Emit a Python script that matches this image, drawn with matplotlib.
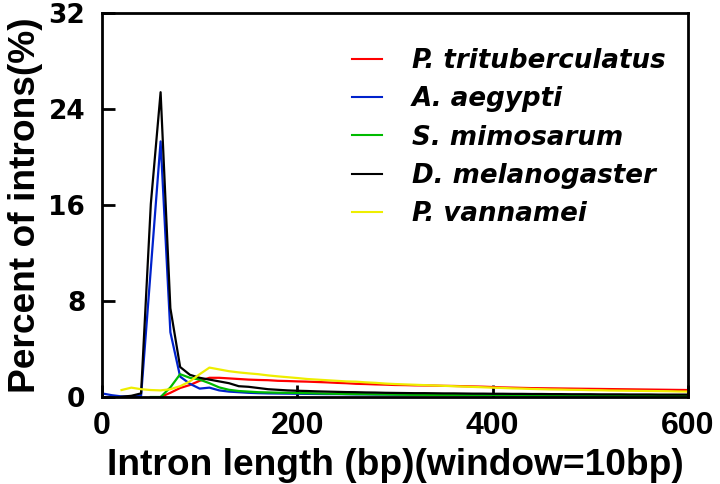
import numpy as np
import matplotlib
matplotlib.use("Agg")
import matplotlib.pyplot as plt

# Data (intron length bins, 10 bp windows)
species = ["P. trituberculatus", "A. aegypti", "S. mimosarum", "D. melanogaster", "P. vannamei"]
colors = ["#ff0000", "#0022cc", "#00bb00", "#000000", "#eeee00"]

red_start = 60
red_vals = [0.0, 0.35, 0.75, 1.0, 1.35, 1.6, 1.6, 1.55, 1.5, 1.45, 1.42, 1.4, 1.35, 1.33, 1.3,
            1.28, 1.25, 1.22, 1.18, 1.15, 1.1, 1.08, 1.05, 1.03, 1.0, 0.99, 0.97, 0.96, 0.95,
            0.93, 0.92, 0.9, 0.88, 0.86, 0.83, 0.8, 0.78, 0.76, 0.74, 0.73, 0.72, 0.71, 0.7,
            0.69, 0.68, 0.67, 0.66, 0.65, 0.64, 0.63, 0.62, 0.61, 0.6, 0.59, 0.58]

blue_start = 0
blue_vals = [0.3, 0.15, 0.05, 0.05, 0.08, 10.7, 21.3, 5.4, 1.7, 1.1, 0.7, 0.78, 0.55, 0.45, 0.4,
             0.35, 0.32, 0.3, 0.29, 0.28, 0.27, 0.26, 0.25, 0.24, 0.24, 0.23, 0.22, 0.22, 0.21,
             0.21, 0.2, 0.2, 0.19, 0.19, 0.18, 0.18, 0.17, 0.17, 0.17, 0.16, 0.16, 0.16, 0.15,
             0.15, 0.15, 0.14, 0.14, 0.14, 0.14, 0.13, 0.13, 0.13, 0.13, 0.13, 0.12, 0.12,
             0.12, 0.12, 0.12, 0.12, 0.12]

green_start = 50
green_vals = [0.0, 0.0, 0.8, 1.9, 1.6, 1.45, 1.15, 0.8, 0.6, 0.5, 0.45, 0.4, 0.38, 0.36, 0.35,
              0.33, 0.32, 0.3, 0.28, 0.27, 0.25, 0.24, 0.23, 0.22, 0.21, 0.2, 0.19, 0.18, 0.18,
              0.17, 0.16, 0.16, 0.15, 0.15, 0.14, 0.14, 0.13, 0.13, 0.13, 0.12, 0.12, 0.12,
              0.11, 0.11, 0.11, 0.11, 0.1, 0.1, 0.1, 0.1, 0.1, 0.1, 0.1, 0.1, 0.1, 0.1]

black_start = 20
black_vals = [0.02, 0.1, 0.3, 16.1, 25.4, 7.4, 2.5, 1.85, 1.6, 1.45, 1.3, 1.15, 0.9, 0.85, 0.75,
              0.65, 0.6, 0.55, 0.52, 0.5, 0.47, 0.45, 0.43, 0.41, 0.4, 0.38, 0.37, 0.35, 0.34,
              0.33, 0.32, 0.32, 0.31, 0.3, 0.3, 0.29, 0.28, 0.28, 0.27, 0.27, 0.26, 0.26, 0.25,
              0.25, 0.24, 0.24, 0.23, 0.23, 0.23, 0.22, 0.22, 0.22, 0.21, 0.21, 0.21, 0.2, 0.2,
              0.2, 0.2]

yellow_start = 20
yellow_vals = [0.58, 0.78, 0.65, 0.58, 0.55, 0.65, 0.9, 1.3, 1.9, 2.45, 2.3, 2.15, 2.05, 1.97,
               1.9, 1.8, 1.72, 1.65, 1.58, 1.5, 1.45, 1.4, 1.35, 1.3, 1.28, 1.22, 1.18, 1.12,
               1.08, 1.05, 1.02, 0.99, 0.96, 0.93, 0.9, 0.87, 0.84, 0.81, 0.78, 0.75, 0.72, 0.7,
               0.67, 0.65, 0.63, 0.62, 0.6, 0.59, 0.57, 0.56, 0.54, 0.53, 0.52, 0.51, 0.5, 0.49,
               0.48, 0.46, 0.45]

x_ticks = [0, 200, 400, 600]
y_ticks = [0, 8, 16, 24, 32]

series = [(red_start, red_vals), (blue_start, blue_vals), (green_start, green_vals),
          (black_start, black_vals), (yellow_start, yellow_vals)]

plt.rcParams['font.family'] = ['Liberation Sans', 'DejaVu Sans']
fig = plt.figure(figsize=(7.2, 4.84), dpi=100)
ax = fig.add_axes([102/720, 1-397/484, (688-102)/720, (397-13)/484])

for (start, vals), c, name in zip(series, colors, species):
    x = start + 10*np.arange(len(vals))
    ax.plot(x, vals, color=c, lw=1.6, label=name)

ax.set_xlim(0, 600)
ax.set_ylim(0, 32)
ax.set_xticks(x_ticks)
ax.set_yticks(y_ticks)
ax.tick_params(direction='in', length=9, width=2)
ax.tick_params(axis='x', pad=10, labelsize=23)
ax.tick_params(axis='y', pad=12, labelsize=19)
for lab in ax.get_xticklabels():
    lab.set_fontweight('bold')
for lab in ax.get_yticklabels():
    lab.set_fontweight('bold')
    lab.set_family(['DejaVu Sans'])
for s in ax.spines.values():
    s.set_linewidth(2)

ax.set_xlabel("Intron length (bp)(window=10bp)", fontsize=26.7, fontweight='bold', labelpad=5)
ax.set_ylabel("Percent of introns(%)", fontsize=26.7, fontweight='bold', labelpad=4)

leg = ax.legend(loc='upper left', frameon=False, handlelength=1.15, handletextpad=1.15,
                labelspacing=0.47, borderpad=0, borderaxespad=0,
                bbox_to_anchor=(352/720, 1-48/484), bbox_transform=fig.transFigure,
                prop={'family': 'DejaVu Sans', 'size': 18.8, 'weight': 'bold', 'style': 'italic'})
for h in leg.get_lines():
    h.set_linewidth(1.5)

fig.savefig("out.png", dpi=100)
